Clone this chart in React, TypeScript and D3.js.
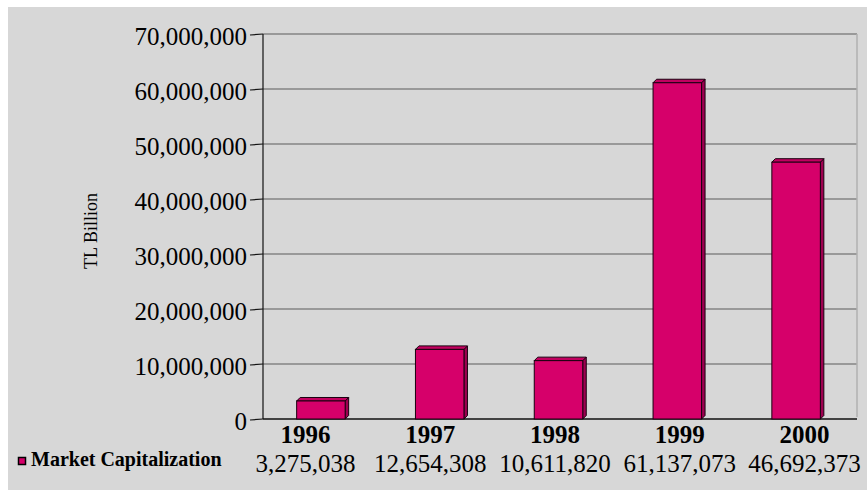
import React, { useEffect, useRef } from 'react';
import * as d3 from 'd3';

const years = ['1996', '1997', '1998', '1999', '2000'];
const marketCap = [3275038, 12654308, 10611820, 61137073, 46692373];
const yTicks = [0, 10000000, 20000000, 30000000, 40000000, 50000000, 60000000, 70000000];
const seriesName = 'Market Capitalization';
const yTitle = 'TL Billion';

const W = 867;
const H = 490;
const plot = { left: 263, right: 857, top: 34, bottom: 419 };
const depth = 3.5;
const font = '"Liberation Serif", "Times New Roman", serif';

const App: React.FC = () => {
  const svgRef = useRef<SVGSVGElement>(null);

  useEffect(() => {
    if (!svgRef.current) return;
    const svg = d3.select(svgRef.current);
    svg.selectAll('*').remove();

    const x = d3.scaleBand().domain(years).range([plot.left, plot.right]).padding(0);
    const tableX = d3.scaleBand().domain(years).range([243, 867]).padding(0);
    const y = d3.scaleLinear().domain([0, 70000000]).range([plot.bottom, plot.top]);
    const fmt = d3.format(',');

    // background
    svg.append('rect').attr('width', W).attr('height', H).attr('fill', '#ffffff');
    svg.append('rect').attr('x', 8).attr('y', 7).attr('width', W - 8).attr('height', H - 7).attr('fill', '#d7d7d7');

    // gridlines
    svg.append('g')
      .selectAll('line')
      .data(yTicks.filter(t => t > 0))
      .enter()
      .append('line')
      .attr('x1', plot.left)
      .attr('x2', plot.right)
      .attr('y1', d => y(d))
      .attr('y2', d => y(d))
      .attr('stroke', '#858585')
      .attr('stroke-width', 1.3);

    // right wall edge
    svg.append('line')
      .attr('x1', plot.right).attr('x2', plot.right)
      .attr('y1', plot.top).attr('y2', plot.bottom - 2)
      .attr('stroke', '#b0b0b0').attr('stroke-width', 1.5);

    // y axis
    svg.append('line')
      .attr('x1', plot.left).attr('x2', plot.left)
      .attr('y1', plot.top).attr('y2', plot.bottom)
      .attr('stroke', '#111').attr('stroke-width', 1.2);

    const ticks = svg.append('g');
    ticks.selectAll('line')
      .data(yTicks)
      .enter()
      .append('line')
      .attr('x1', 250)
      .attr('x2', plot.left)
      .attr('y1', d => y(d) + 1)
      .attr('y2', d => y(d))
      .attr('stroke', '#111')
      .attr('stroke-width', 1.2);
    ticks.selectAll('text')
      .data(yTicks)
      .enter()
      .append('text')
      .attr('x', 247)
      .attr('y', d => y(d) + 11)
      .attr('text-anchor', 'end')
      .attr('font-family', font)
      .attr('font-size', 25)
      .attr('fill', '#000')
      .text(d => fmt(d));

    // floor line
    svg.append('line')
      .attr('x1', plot.left).attr('x2', plot.right)
      .attr('y1', plot.bottom).attr('y2', plot.bottom)
      .attr('stroke', '#111').attr('stroke-width', 1.5);

    // bars
    const barW = 48.5;
    const bars = svg.append('g');
    years.forEach((yr, i) => {
      const cx = (x(yr) || 0) + x.bandwidth() / 2 - 1.5;
      const x0 = cx - barW / 2;
      const x1 = cx + barW / 2;
      const yt = y(marketCap[i]);
      const yb = plot.bottom;
      // side
      bars.append('path')
        .attr('d', `M${x1},${yb} L${x1 + depth},${yb - depth} L${x1 + depth},${yt - depth} L${x1},${yt} Z`)
        .attr('fill', '#9e0050').attr('stroke', '#1a0010').attr('stroke-width', 1);
      // top
      bars.append('path')
        .attr('d', `M${x0},${yt} L${x0 + depth},${yt - depth} L${x1 + depth},${yt - depth} L${x1},${yt} Z`)
        .attr('fill', '#c2005f').attr('stroke', '#1a0010').attr('stroke-width', 1);
      // front
      bars.append('rect')
        .attr('x', x0).attr('y', yt)
        .attr('width', barW).attr('height', yb - yt)
        .attr('fill', '#d6006a').attr('stroke', '#1a0010').attr('stroke-width', 1);
    });

    // y title
    svg.append('text')
      .attr('transform', 'translate(97,231) rotate(-90)')
      .attr('text-anchor', 'middle')
      .attr('font-family', font)
      .attr('font-size', 18)
      .attr('fill', '#000')
      .text(yTitle);

    // data table
    const table = svg.append('g');
    years.forEach((yr, i) => {
      const cx = (tableX(yr) || 0) + tableX.bandwidth() / 2;
      table.append('text')
        .attr('x', cx).attr('y', 443)
        .attr('text-anchor', 'middle')
        .attr('font-family', font).attr('font-size', 25).attr('font-weight', 'bold')
        .attr('fill', '#000')
        .text(yr);
      table.append('text')
        .attr('x', cx).attr('y', 472)
        .attr('text-anchor', 'middle')
        .attr('font-family', font).attr('font-size', 25)
        .attr('fill', '#000')
        .text(fmt(marketCap[i]));
    });

    // legend key
    table.append('rect')
      .attr('x', 18.5).attr('y', 457.5).attr('width', 7).attr('height', 7)
      .attr('fill', '#d6006a').attr('stroke', '#000').attr('stroke-width', 1.5);
    table.append('text')
      .attr('x', 31).attr('y', 466)
      .attr('font-family', font).attr('font-size', 20).attr('font-weight', 'bold')
      .attr('fill', '#000')
      .text(seriesName);
  }, []);

  return (
    <svg
      ref={svgRef}
      width={W}
      height={H}
      viewBox={`0 0 ${W} ${H}`}
      style={{ position: 'fixed', left: 0, top: 0, display: 'block' }}
    />
  );
};

export default App;
